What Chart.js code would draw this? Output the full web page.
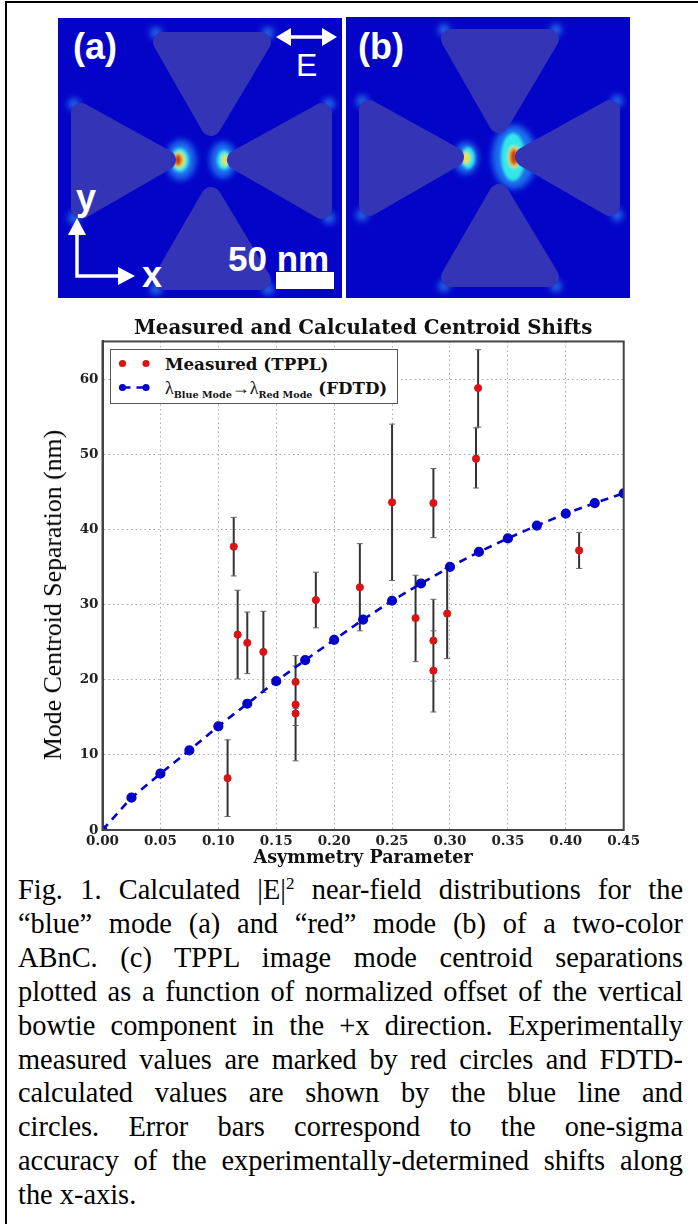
<!DOCTYPE html>
<html>
<head>
<meta charset="utf-8">
<script src="https://cdn.jsdelivr.net/npm/chart.js@4"></script>
<style>
html, body { margin: 0; padding: 0; background: #fff; }
#page { position: relative; width: 698px; height: 1224px; overflow: hidden; }
#frame-top { position: absolute; left: 5px; top: 1px; right: 0; height: 2px; background: #000; }
#frame-left { position: absolute; left: 5px; top: 1px; bottom: 0; width: 2px; background: #000; }
#panels { position: absolute; left: 0; top: 0; }
#chart-wrap { position: absolute; left: 0; top: 310px; width: 698px; height: 560px; }
#y-title { position: absolute; left: 53px; top: 595px; transform: translate(-50%, -50%) rotate(-90deg); white-space: nowrap; font: 25.8px "Liberation Serif"; color: #000; }
#legend { position: absolute; left: 110px; top: 349px; width: 288px; height: 55px; box-sizing: border-box; border: 1.5px solid #555; background: #fff; font: bold 16.7px "DejaVu Serif"; color: #111; }
#legend .row { position: absolute; left: 0; right: 0; height: 24px; line-height: 24px; white-space: nowrap; }
#legend svg { position: absolute; left: 0; top: 0; }
#legend .lab { position: absolute; left: 54px; top: 0; }
#legend i { font: normal 18px "Liberation Serif"; }
#legend sub { font: bold 9.6px "DejaVu Serif"; line-height: 0; vertical-align: -4px; }
#caption { position: absolute; left: 18px; top: 873px; width: 665px; font: 28.4px/33.9px "Liberation Serif"; color: #000; }
#caption div { text-align: justify; text-align-last: justify; white-space: nowrap; }
#caption div:last-child { text-align-last: left; }
#caption sup { font-size: 17px; line-height: 0; }
</style>
</head>
<body>
<div id="page">
  <div id="frame-top"></div>
  <div id="frame-left"></div>

  <svg id="panels" width="698" height="310" xmlns="http://www.w3.org/2000/svg">
    <defs>
      <filter id="soft" x="-50%" y="-50%" width="200%" height="200%"><feGaussianBlur stdDeviation="1.5"/></filter>
      <filter id="glow" x="-80%" y="-80%" width="260%" height="260%"><feGaussianBlur stdDeviation="3"/></filter>
      <g id="corners" fill="#2a80f0" opacity="0.8">
        <circle cx="156" cy="33" r="6"/><circle cx="268" cy="33" r="6"/>
        <circle cx="156" cy="289" r="6"/><circle cx="268" cy="289" r="6"/>
        <circle cx="74" cy="104" r="6"/><circle cx="329" cy="104" r="6"/>
        <circle cx="74" cy="218" r="6"/><circle cx="329" cy="218" r="6"/>
      </g>
      <g id="shapes" fill="#3434b6" stroke="#3434b6" stroke-width="20" stroke-linejoin="round">
        <polygon points="163,42 261,42 211,126"/>
        <polygon points="163,280 261,280 211,197"/>
        <polygon points="81,113 81,209 166,160"/>
        <polygon points="322,113 322,209 237,160"/>
      </g>
    </defs>

    <rect x="58" y="18" width="284" height="280" fill="#0404c8"/>
    <use href="#corners" filter="url(#glow)"/>
    <ellipse cx="181" cy="160" rx="15" ry="20" fill="#1c70f0" filter="url(#glow)"/>
    <ellipse cx="223" cy="160" rx="13" ry="18" fill="#1c70f0" filter="url(#glow)"/>
    <g filter="url(#soft)">
      <ellipse cx="180" cy="160" rx="9" ry="12" fill="#30e8e8"/>
      <ellipse cx="224" cy="160" rx="7" ry="10" fill="#30e8e8"/>
      <ellipse cx="179" cy="160" rx="6" ry="8" fill="#f0e040"/>
      <ellipse cx="225" cy="160" rx="3.5" ry="6" fill="#e0e050"/>
      <ellipse cx="178" cy="160" rx="4" ry="6" fill="#d04010"/>
    </g>
    <use href="#shapes"/>

    <g transform="translate(288 -3)">
      <rect x="58" y="20" width="284" height="281" fill="#0404c8"/>
      <use href="#corners" filter="url(#glow)"/>
      <ellipse cx="178" cy="161" rx="12" ry="16" fill="#1c70f0" filter="url(#glow)"/>
      <ellipse cx="226" cy="160" rx="22" ry="32" fill="#1c70f0" filter="url(#glow)"/>
      <g filter="url(#soft)">
        <ellipse cx="180" cy="161" rx="7" ry="11" fill="#30e8e8"/>
        <ellipse cx="225" cy="160" rx="12" ry="24" fill="#30e8e8"/>
        <ellipse cx="178" cy="161" rx="4" ry="6" fill="#f0e040"/>
        <ellipse cx="226" cy="160" rx="6" ry="11" fill="#f0d030"/>
        <ellipse cx="226" cy="160" rx="4" ry="8" fill="#d04010"/>
      </g>
      <use href="#shapes"/>
    </g>

    <g fill="#fff" font-family="Liberation Sans" font-weight="bold">
      <text x="73" y="59" font-size="36">(a)</text>
      <text x="358" y="59" font-size="36">(b)</text>
      <text x="296" y="76" font-size="32" font-weight="normal">E</text>
      <text x="76" y="210" font-size="36">y</text>
      <text x="142" y="287" font-size="36">x</text>
      <text x="228" y="271" font-size="35">50 nm</text>
    </g>
    <rect x="276" y="272" width="58" height="17" fill="#fff"/>
    <g stroke="#fff" stroke-width="3.5" fill="none">
      <line x1="285" y1="37" x2="328" y2="37"/>
      <path d="M77 230 V276 H124"/>
    </g>
    <g fill="#fff">
      <polygon points="276,37 291,28 291,46"/>
      <polygon points="337,37 322,28 322,46"/>
      <polygon points="77,218 68,235 86,235"/>
      <polygon points="135,276 118,267 118,285"/>
    </g>
  </svg>

  <div id="chart-wrap"><canvas id="centroidChart"></canvas></div>
  <div id="y-title">Mode Centroid Separation (nm)</div>

  <div id="legend">
    <div class="row" style="top:1.5px">
      <svg width="50" height="24"><circle cx="11.5" cy="11.5" r="3.6" fill="#d81414"/><circle cx="35" cy="11.5" r="3.6" fill="#d81414"/></svg>
      <span class="lab">Measured (TPPL)</span>
    </div>
    <div class="row" style="top:25.5px">
      <svg width="50" height="24"><line x1="11.5" y1="11.5" x2="35" y2="11.5" stroke="#0404c8" stroke-width="2.6" stroke-dasharray="8 6"/><circle cx="11.5" cy="11.5" r="3.6" fill="#0404c8"/><circle cx="35" cy="11.5" r="3.6" fill="#0404c8"/></svg>
      <span class="lab"><i>&lambda;<sub>Blue Mode</sub>&rarr;&lambda;<sub>Red Mode</sub></i> (FDTD)</span>
    </div>
  </div>

  <div id="caption">
    <div>Fig. 1. Calculated |E|<sup>2</sup> near-field distributions for the</div>
    <div>&ldquo;blue&rdquo; mode (a) and &ldquo;red&rdquo; mode (b) of a two-color</div>
    <div>ABnC. (c) TPPL image mode centroid separations</div>
    <div>plotted as a function of normalized offset of the vertical</div>
    <div>bowtie component in the +x direction. Experimentally</div>
    <div>measured values are marked by red circles and FDTD-</div>
    <div>calculated values are shown by the blue line and</div>
    <div>circles. Error bars correspond to the one-sigma</div>
    <div>accuracy of the experimentally-determined shifts along</div>
    <div>the x-axis.</div>
  </div>
</div>

<script>
// Measured centroid shifts with the ends of their error bars
const measuredX = [0.108, 0.1133, 0.1167, 0.125, 0.1389, 0.1667, 0.1667, 0.1667, 0.1842, 0.2222, 0.25, 0.2703, 0.2857, 0.2857, 0.2857, 0.2976, 0.3243, 0.3225, 0.4115];
const measuredY = [6.9, 37.7, 26, 24.9, 23.7, 19.7, 16.7, 15.5, 30.6, 32.3, 43.6, 28.2, 43.5, 25.2, 21.2, 28.8, 58.8, 49.4, 37.2];
const errorLow = [1.8, 33.8, 20.1, 20.8, 18.3, 16.2, 13.9, 9.2, 26.9, 26.5, 33.2, 22.4, 38.9, 19.8, 15.7, 22.8, 53.6, 45.5, 34.8];
const errorHigh = [12, 41.6, 31.9, 29, 29.1, 23.2, 19.5, 21.8, 34.3, 38.1, 54, 33.9, 48.1, 30.7, 26.5, 34.8, 63.9, 53.5, 39.6];

// FDTD curve
const fdtdX = [0, 0.025, 0.05, 0.075, 0.1, 0.125, 0.15, 0.175, 0.2, 0.225, 0.25, 0.275, 0.3, 0.325, 0.35, 0.375, 0.4, 0.425, 0.45];
const fdtdY = [0, 4.3, 7.5, 10.6, 13.8, 16.8, 19.8, 22.6, 25.3, 28, 30.5, 32.8, 35, 37, 38.8, 40.5, 42.1, 43.5, 44.8];

const serifBold = 'DejaVu Serif';

// One line dataset for all error bars, NaN breaks the line between them
const errorPoints = measuredX.flatMap((x, i) => [
    { x: x, y: errorLow[i] },
    { x: x, y: errorHigh[i] },
    { x: x, y: NaN }
]);

// Closes the box round the plot and centres the title over the plot
const plotFrame = {
    id: 'plotFrame',
    beforeDraw(chart) {
        chart.titleBlock.left = chart.chartArea.left;
        chart.titleBlock.right = chart.chartArea.right;
    },
    afterDraw(chart) {
        const { left, top, width, height } = chart.chartArea;
        const c = chart.ctx;
        c.save();
        c.strokeStyle = '#444';
        c.lineWidth = 2;
        c.strokeRect(left, top, width, height);
        c.restore();
    }
};

const ctx = document.getElementById('centroidChart').getContext('2d');
const centroidChart = new Chart(ctx, {
    type: 'line',
    plugins: [plotFrame],
    data: {
        datasets: [{
            label: 'Error bars',
            data: errorPoints,
            borderColor: '#333',
            borderWidth: 2,
            pointStyle: 'line',
            pointRadius: 3,
            pointBorderColor: '#666',
            pointBorderWidth: 1,
            spanGaps: false,
            order: 3
        }, {
            label: 'FDTD',
            data: fdtdX.map((x, i) => ({ x: x, y: fdtdY[i] })),
            borderColor: '#0404c8',
            backgroundColor: '#0404c8',
            borderWidth: 2.6,
            borderDash: [8, 6],
            pointRadius: 3.8,
            order: 2
        }, {
            label: 'Measured (TPPL)',
            data: measuredX.map((x, i) => ({ x: x, y: measuredY[i] })),
            showLine: false,
            backgroundColor: '#d81414',
            borderColor: '#d81414',
            pointRadius: 3.6,
            order: 1
        }]
    },
    options: {
        responsive: true,
        maintainAspectRatio: false,
        animation: false,
        layout: { padding: { left: 40, right: 74.3, top: 0, bottom: 0 } },
        plugins: {
            legend: { display: false },
            tooltip: { enabled: false },
            title: {
                display: true,
                text: 'Measured and Calculated Centroid Shifts',
                color: '#111',
                font: { family: serifBold, size: 19.8, weight: 'bold' },
                padding: { top: 6.5, bottom: 1.2 }
            }
        },
        scales: {
            x: {
                type: 'linear',
                min: 0,
                max: 0.45,
                border: { color: '#444', width: 2, dash: [1.5, 3] },
                grid: { color: '#aaa', lineWidth: 1, drawTicks: false },
                ticks: {
                    stepSize: 0.05,
                    padding: 3,
                    maxRotation: 0,
                    color: '#222',
                    font: { family: serifBold, size: 13.5, weight: 'bold' },
                    callback: (v) => v.toFixed(2)
                },
                title: {
                    display: true,
                    text: 'Asymmetry Parameter',
                    color: '#111',
                    font: { family: serifBold, size: 17.6, weight: 'bold' },
                    padding: { top: 0, bottom: 1 }
                },
                afterFit(scale) {
                    scale.height = 40;
                    scale.paddingLeft = 0;
                    scale.paddingRight = 0;
                }
            },
            y: {
                min: 0,
                max: 65,
                border: { color: '#444', width: 2, dash: [1.5, 3] },
                grid: { color: '#aaa', lineWidth: 1, drawTicks: false },
                ticks: {
                    stepSize: 10,
                    padding: 4,
                    color: '#222',
                    font: { family: serifBold, size: 13.5, weight: 'bold' },
                    callback: (v) => (v % 10 === 0 ? v : '')
                },
                afterFit(scale) {
                    scale.width = 62.5;
                    scale.paddingTop = 0;
                    scale.paddingBottom = 0;
                }
            }
        }
    }
});
</script>
</body>
</html>
